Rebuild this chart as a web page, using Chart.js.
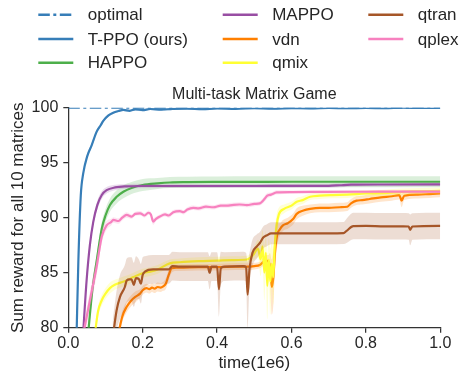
<!DOCTYPE html>
<html><head><meta charset="utf-8">
<script src="https://cdn.jsdelivr.net/npm/chart.js@4.4.0/dist/chart.umd.min.js"></script>
<style>html,body{margin:0;padding:0;background:#fff;}#wrap{width:459px;height:373px;}</style>
</head><body><div id="wrap"><canvas id="c" width="459" height="373"></canvas></div>
<script>
const seriesNames = ['optimal','T-PPO (ours)','HAPPO','MAPPO','vdn','qmix','qtran','qplex'];
const seriesColors = ['#377eb8','#377eb8','#4daf4a','#984ea3','#ff7f00','#ffff33','#a65628','#f781bf'];
const xTicks = [0, 0.2, 0.4, 0.6, 0.8, 1.0];
const yTicks = [80, 85, 90, 95, 100];

const optimalX = [0, 1.0];
const optimalY = [100, 100];

const tppoX = [0.022,0.027,0.0335,0.04,0.051,0.063,0.076,0.087,0.094,0.108,0.121,0.135,0.148,0.165,0.18,0.2,0.22,0.25,0.28,0.32,0.36,0.4,0.45,0.5,0.55,0.6,0.65,0.7,0.75,0.8,0.85,0.9,0.95,1.0];
const tppoY = [79,86,92,94,95.6,96.6,97.8,98.4,98.8,99.3,99.55,99.7,99.8,99.72,99.85,99.78,99.88,99.82,99.9,99.92,99.86,99.94,99.9,99.95,99.92,99.97,99.94,99.98,99.95,99.98,99.96,100,99.98,100];
const tppoSpread = [0.3,0.3,0.3,0.3,0.25,0.2,0.2,0.15,0.15,0.12,0.1,0.1,0.1,0.1,0.1,0.1,0.1,0.1,0.1,0.1,0.1,0.1,0.1,0.1,0.1,0.1,0.1,0.1,0.1,0.1,0.1,0.1,0.1,0.1];

const happoX = [0.052,0.065,0.076,0.09,0.1,0.112,0.13,0.148,0.17,0.2,0.24,0.273,0.32,0.4,0.5,0.6,0.7,0.8,0.9,1.0];
const happoY = [79,83.5,86.0,89.0,90.2,91.15,91.9,92.36,92.7,92.97,93.12,93.2,93.23,93.25,93.26,93.27,93.27,93.27,93.27,93.27];
const happoSpread = [0.6,0.6,0.6,0.6,0.6,0.6,0.6,0.6,0.55,0.55,0.5,0.5,0.5,0.5,0.5,0.5,0.5,0.5,0.5,0.5];

const mappoX = [0.039,0.049,0.058,0.067,0.078,0.09,0.103,0.126,0.157,0.2,0.3,0.4,0.5,0.6,0.7,0.73,0.76,0.85,1.0];
const mappoY = [79,84.2,87.5,89.6,91.15,92.06,92.5,92.75,92.85,92.88,92.88,92.88,92.88,92.89,92.9,92.95,93.0,93.02,93.03];
const mappoSpread = [0.3,0.35,0.4,0.4,0.4,0.35,0.3,0.25,0.2,0.2,0.18,0.18,0.18,0.18,0.18,0.18,0.18,0.18,0.18];

const vdnX = [0.132,0.145,0.157,0.17,0.18,0.193,0.2,0.21,0.218,0.225,0.232,0.24,0.248,0.255,0.262,0.27,0.278,0.29,0.3,0.35,0.4,0.45,0.48,0.5,0.515,0.525,0.533,0.538,0.542,0.547,0.551,0.556,0.562,0.568,0.577,0.59,0.605,0.614,0.632,0.65,0.676,0.7,0.73,0.75,0.76,0.775,0.79,0.81,0.84,0.87,0.89,0.896,0.903,0.94,0.97,1.0];
const vdnY = [79,81.0,81.9,82.5,82.8,83.1,83.4,83.6,83.5,83.65,83.55,83.7,83.65,83.75,84.0,84.8,85.4,85.45,85.45,85.5,85.5,85.55,85.55,85.6,85.7,86.0,86.1,86.0,85.6,83.7,84.5,87.0,88.5,88.9,89.3,89.5,89.9,90.35,90.65,90.8,90.9,90.9,90.95,91.0,91.3,91.55,91.6,91.7,91.85,91.95,92.05,91.55,92.0,92.1,92.15,92.2];
const vdnSpread = [0.6,0.5,0.5,0.5,0.5,0.4,0.4,0.4,0.4,0.4,0.4,0.4,0.4,0.4,0.5,0.5,0.4,0.3,0.3,0.3,0.3,0.3,0.3,0.3,0.3,0.4,0.5,0.6,1.2,2.5,2.5,1.5,1.0,0.6,0.5,0.5,0.5,0.5,0.45,0.4,0.4,0.4,0.4,0.4,0.4,0.4,0.4,0.4,0.4,0.4,0.4,0.6,0.4,0.35,0.35,0.35];

const qmixX = [0.07,0.08,0.09,0.1,0.112,0.125,0.14,0.157,0.175,0.2,0.22,0.24,0.273,0.3,0.35,0.4,0.44,0.48,0.497,0.51,0.517,0.522,0.527,0.531,0.535,0.539,0.543,0.547,0.551,0.555,0.56,0.566,0.58,0.6,0.614,0.63,0.65,0.676,0.71,0.75,0.8,0.846,0.9,0.95,1.0];
const qmixY = [79,81.5,82.5,83.1,83.6,83.9,84.1,84.3,84.6,84.95,85.1,85.3,85.85,85.95,86.05,86.1,86.15,86.2,86.6,87.2,86.2,87.4,85.0,86.8,83.8,86.2,84.2,85.8,84.6,87.5,89.3,90.3,90.8,91.1,91.45,91.6,91.9,92.0,92.06,92.1,92.2,92.24,92.35,92.4,92.45];
const qmixSpread = [0.5,0.5,0.5,0.5,0.5,0.45,0.45,0.45,0.4,0.4,0.4,0.4,0.35,0.35,0.35,0.35,0.35,0.35,0.5,0.8,1.5,1.5,2.5,2.0,3.0,2.0,3.0,2.0,2.5,1.5,1.0,0.6,0.4,0.35,0.35,0.35,0.3,0.3,0.3,0.3,0.3,0.3,0.3,0.3,0.3];

const qtranX = [0.119,0.13,0.139,0.152,0.157,0.165,0.17,0.176,0.182,0.19,0.195,0.2,0.206,0.228,0.27,0.28,0.3,0.35,0.375,0.38,0.385,0.4,0.405,0.41,0.42,0.47,0.478,0.482,0.487,0.495,0.507,0.515,0.524,0.534,0.545,0.6,0.7,0.74,0.748,0.766,0.8,0.85,0.9,0.915,0.919,0.925,1.0];
const qtranY = [79,81.6,82.8,83.7,84.3,84.4,84.4,83.9,84.5,84.4,84.0,84.8,85.1,85.3,85.3,85.6,85.55,85.55,85.55,85.0,85.55,85.55,83.5,85.4,85.55,85.6,85.5,83.0,85.3,86.8,87.4,87.7,88.2,88.4,88.58,88.58,88.58,88.6,88.8,89.24,89.25,89.22,89.22,89.2,88.9,89.2,89.25];
const qtranSpread = [1.5,1.8,2.0,2.0,2.0,2.0,2.0,2.0,2.0,1.8,1.8,1.6,1.4,1.3,1.3,1.3,1.3,1.3,1.3,1.5,1.3,1.3,2.5,1.5,1.3,1.3,1.3,3.0,1.5,1.2,1.1,1.0,1.0,1.0,1.0,1.0,1.0,1.0,1.1,1.2,1.2,1.2,1.2,1.2,1.4,1.2,1.2];

const qplexX = [0.038,0.058,0.076,0.09,0.103,0.115,0.121,0.135,0.145,0.157,0.17,0.18,0.193,0.205,0.215,0.222,0.228,0.236,0.246,0.26,0.27,0.282,0.3,0.31,0.32,0.336,0.35,0.37,0.39,0.41,0.426,0.44,0.46,0.48,0.5,0.515,0.525,0.535,0.545,0.56,0.6,0.7,0.8,0.9,1.0];
const qplexY = [79,82.5,85.5,88.3,89.3,89.6,89.8,89.7,90.0,90.25,90.1,90.35,90.4,90.2,90.45,90.3,89.65,89.9,90.1,90.3,90.2,90.5,90.6,90.5,90.75,90.9,90.85,91.0,90.95,91.1,91.1,91.15,91.2,91.15,91.25,91.3,91.6,92.0,92.1,92.3,92.33,92.35,92.36,92.37,92.37];
const qplexSpread = [0.6,0.8,0.8,0.6,0.4,0.3,0.25,0.25,0.25,0.25,0.2,0.2,0.2,0.2,0.2,0.2,0.3,0.2,0.2,0.2,0.2,0.2,0.2,0.2,0.2,0.2,0.2,0.2,0.2,0.2,0.2,0.2,0.2,0.2,0.2,0.2,0.25,0.25,0.2,0.2,0.15,0.15,0.15,0.15,0.15];

const seriesTable = [
  {name: seriesNames[1], x: tppoX, y: tppoY, s: tppoSpread, c: seriesColors[1]},
  {name: seriesNames[2], x: happoX, y: happoY, s: happoSpread, c: seriesColors[2]},
  {name: seriesNames[3], x: mappoX, y: mappoY, s: mappoSpread, c: seriesColors[3]},
  {name: seriesNames[4], x: vdnX, y: vdnY, s: vdnSpread, c: seriesColors[4]},
  {name: seriesNames[5], x: qmixX, y: qmixY, s: qmixSpread, c: seriesColors[5]},
  {name: seriesNames[6], x: qtranX, y: qtranY, s: qtranSpread, c: seriesColors[6]},
  {name: seriesNames[7], x: qplexX, y: qplexY, s: qplexSpread, c: seriesColors[7]}
];

function rgba(hex, a) {
  const n = parseInt(hex.slice(1), 16);
  return `rgba(${(n>>16)&255},${(n>>8)&255},${n&255},${a})`;
}
function pts(xs, ys) { return xs.map((x, i) => ({x, y: ys[i]})); }

const datasets = [];
let ord = 100;
datasets.push({
  label: seriesNames[0], data: pts(optimalX, optimalY), borderColor: seriesColors[0],
  borderWidth: 2.2, borderDash: [11.5, 3.5, 3, 3.5], pointRadius: 0, fill: false, order: ord--
});
seriesTable.forEach(s => {
  const lowIdx = datasets.length;
  datasets.push({
    label: s.name + ' low', data: pts(s.x, s.y.map((v, i) => v - s.s[i])),
    borderWidth: 0, pointRadius: 0, fill: false, cubicInterpolationMode: 'monotone', order: ord--
  });
  datasets.push({
    label: s.name + ' high', data: pts(s.x, s.y.map((v, i) => v + s.s[i])),
    borderWidth: 0, pointRadius: 0, fill: lowIdx, backgroundColor: rgba(s.c, 0.2),
    cubicInterpolationMode: 'monotone', order: ord--
  });
  datasets.push({
    label: s.name, data: pts(s.x, s.y), borderColor: s.c, borderWidth: 2.2,
    pointRadius: 0, fill: false, cubicInterpolationMode: 'monotone', order: ord--
  });
});

const legendPlugin = {
  id: 'colLegend',
  afterDraw(chart) {
    const ctx = chart.ctx;
    ctx.save();
    ctx.font = "17px 'Liberation Sans', Arial, sans-serif";
    ctx.textBaseline = 'middle';
    ctx.textAlign = 'left';
    ctx.fillStyle = '#262626';
    const colX = [38.3, 222.7, 368.3];
    const rowY = [14.7, 38.9, 62.7];
    seriesNames.forEach((n, i) => {
      const c = Math.floor(i / 3), r = i % 3;
      const x = colX[c], y = rowY[r];
      ctx.beginPath();
      ctx.strokeStyle = seriesColors[i];
      ctx.lineWidth = 2.5;
      ctx.setLineDash(i === 0 ? [11.5, 3.5, 3, 3.5] : []);
      ctx.moveTo(x, y); ctx.lineTo(x + 35, y); ctx.stroke();
      ctx.setLineDash([]);
      ctx.fillText(n, x + 49.5, y + 1);
    });
    ctx.restore();
  }
};

Chart.defaults.font.family = "'Liberation Sans', Arial, sans-serif";
Chart.defaults.color = '#262626';

new Chart(document.getElementById('c'), {
  type: 'line',
  data: {datasets},
  plugins: [legendPlugin],
  options: {
    responsive: false, animation: false, devicePixelRatio: 1,
    layout: {padding: {top: 84.5, right: 18.7, left: 0, bottom: 0}},
    plugins: {
      legend: {display: false}, tooltip: {enabled: false},
      title: {display: true, text: 'Multi-task Matrix Game', fullSize: false,
        font: {size: 16, weight: 'normal', lineHeight: 1.2}, color: '#262626',
        padding: {top: 0, bottom: 4}}
    },
    scales: {
      x: {
        type: 'linear', min: 0, max: 1,
        afterBuildTicks: s => { s.ticks = xTicks.map(v => ({value: v})); },
        afterFit: s => { s.height = 45.3; },
        ticks: {callback: v => v.toFixed(1), font: {size: 16, lineHeight: 1}, color: '#262626', padding: 3},
        grid: {display: true, drawOnChartArea: false, drawTicks: true, tickLength: 5, color: '#333', lineWidth: 1.25},
        border: {display: true, color: '#333', width: 1.25},
        title: {display: true, text: 'time(1e6)', font: {size: 17, lineHeight: 1}, color: '#262626', padding: {top: 0, bottom: 1}}
      },
      y: {
        type: 'linear', min: 80, max: 100,
        afterBuildTicks: s => { s.ticks = yTicks.map(v => ({value: v})); },
        afterFit: s => { s.width = 68.3; },
        ticks: {font: {size: 16}, color: '#262626', padding: 5},
        grid: {display: true, drawOnChartArea: false, drawTicks: true, tickLength: 5, color: '#333', lineWidth: 1.25},
        border: {display: true, color: '#333', width: 1.25},
        title: {display: true, text: 'Sum reward for all 10 matrices', font: {size: 17, lineHeight: 1.2}, color: '#262626', padding: {top: 8, bottom: 0}}
      }
    }
  }
});
</script></body></html>
